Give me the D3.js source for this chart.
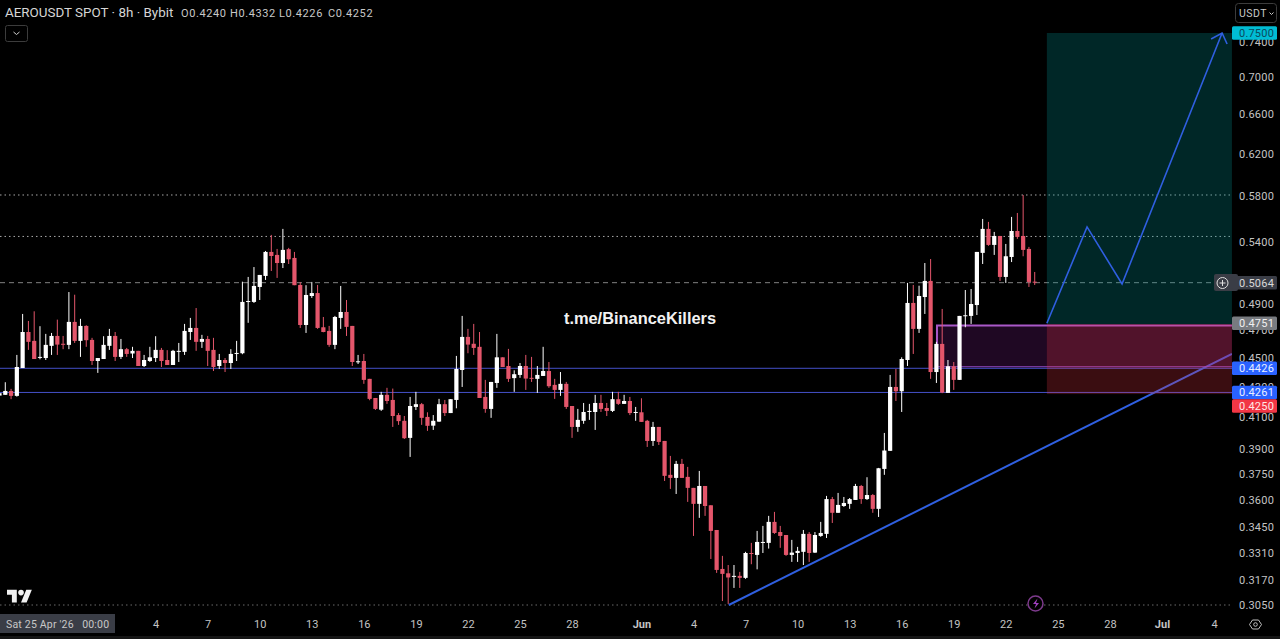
<!DOCTYPE html>
<html>
<head>
<meta charset="utf-8">
<script src="https://cdn.jsdelivr.net/npm/d3@7"></script>
<style>
  html, body { margin: 0; padding: 0; background: #000; overflow: hidden; }
  svg { display: block; font-family: Roboto, "Liberation Sans", sans-serif; }
</style>
</head>
<body>
<svg id="chart" width="1280" height="639"></svg>
<script>
// 8h bars, first one is Sat 25 Apr 2026 00:00
const startTime = Date.UTC(2026, 3, 25);
const barMs = 8 * 3600 * 1000;

const opens = [.4240,.4245,.4271,.4238,.4428,.4686,.4621,.4499,.4498,.4585,.4657,.4600,.4592,.4761,.4621,.4731,.4628,.4477,.4491,.4585,
  .4657,.4506,.4561,.4530,.4549,.4442,.4477,.4498,.4556,.4484,.4449,.4542,.4542,.4686,.4716,.4614,.4635,.4556,.4442,.4484,
  .4463,.4527,.4532,.4915,.4913,.5030,.5118,.5315,.5290,.5223,.5338,.5265,.5046,.4738,.4959,.4982,.4721,.4694,.4592,.4791,
  .4836,.4731,.4470,.4477,.4353,.4224,.4147,.4245,.4211,.4112,.4075,.3967,.4165,.4183,.4100,.4044,.4070,.4183,.4125,.4211,
  .4414,.4650,.4600,.4578,.4231,.4152,.4325,.4503,.4442,.4358,.4380,.4442,.4360,.4353,.4373,.4407,.4312,.4278,.4319,.4171,
  .4036,.4075,.4132,.4132,.4191,.4158,.4139,.4216,.4185,.4204,.4127,.4130,.4075,.3948,.4036,.3948,.3743,.3725,.3808,.3731,
  .3667,.3576,.3678,.3568,.3432,.3228,.3206,.3190,.3193,.3183,.3310,.3300,.3365,.3363,.3476,.3421,.3405,.3300,.3310,.3316,
  .3411,.3312,.3400,.3411,.3603,.3526,.3564,.3576,.3598,.3678,.3603,.3626,.3548,.3778,.3887,.4298,.4269,.4484,.4905,.4709,
  .4951,.5078,.4400,.4599,.4258,.4440,.4346,.4804,.4806,.4889,.5307,.5511,.5374,.5450,.5110,.5273,.5493,.5450,.5340,.5072];
const highs = [.4258,.4330,.4285,.4520,.4821,.4768,.4841,.4729,.4672,.4679,.4778,.4657,.4990,.4969,.4784,.4736,.4643,.4498,.4655,.4709,
  .4686,.4635,.4570,.4578,.4549,.4520,.4578,.4655,.4570,.4554,.4556,.4606,.4746,.4791,.4866,.4665,.4657,.4643,.4527,.4498,
  .4561,.4621,.5072,.5110,.5190,.5126,.5323,.5459,.5340,.5511,.5349,.5315,.5068,.5044,.5070,.5046,.4798,.4731,.4806,.5038,
  .4928,.4731,.4520,.4527,.4353,.4224,.4265,.4292,.4287,.4125,.4106,.4231,.4265,.4191,.4130,.4112,.4218,.4211,.4216,.4513,
  .4806,.4709,.4746,.4686,.4346,.4332,.4672,.4503,.4563,.4412,.4463,.4520,.4506,.4442,.4578,.4470,.4353,.4400,.4332,.4171,
  .4152,.4191,.4185,.4245,.4245,.4191,.4265,.4265,.4245,.4231,.4165,.4222,.4081,.4068,.4036,.3948,.3856,.3826,.3838,.3790,
  .3667,.3766,.3678,.3568,.3432,.3295,.3248,.3248,.3213,.3316,.3363,.3427,.3454,.3509,.3531,.3454,.3405,.3379,.3342,.3432,
  .3421,.3421,.3476,.3621,.3615,.3638,.3615,.3609,.3690,.3684,.3729,.3632,.3784,.3998,.4380,.4421,.4503,.5062,.5046,.5040,
  .5223,.5256,.4614,.4859,.4484,.4470,.4806,.5006,.5014,.5315,.5598,.5572,.5485,.5450,.5382,.5616,.5651,.5813,.5357,.5150];
const lows = [.4238,.4245,.4216,.4233,.4428,.4556,.4491,.4489,.4484,.4520,.4520,.4561,.4561,.4606,.4506,.4578,.4449,.4394,.4491,.4556,
  .4477,.4491,.4506,.4498,.4442,.4435,.4470,.4470,.4435,.4449,.4449,.4470,.4520,.4628,.4549,.4570,.4442,.4407,.4421,.4400,
  .4421,.4477,.4525,.4754,.4905,.4928,.5086,.5158,.5102,.5182,.5215,.5044,.4716,.4679,.4944,.4709,.4684,.4578,.4561,.4709,
  .4657,.4442,.4456,.4319,.4209,.4145,.4139,.4185,.4036,.4049,.3960,.3850,.4145,.4049,.4011,.4017,.4068,.4106,.4125,.4156,
  .4298,.4532,.4520,.4224,.4127,.4094,.4292,.4435,.4332,.4265,.4360,.4278,.4332,.4258,.4373,.4292,.4218,.4238,.4152,.3967,
  .4005,.4056,.4081,.4017,.4132,.4106,.4132,.4178,.4185,.4112,.4075,.4068,.3911,.3917,.3923,.3707,.3661,.3632,.3725,.3587,
  .3400,.3498,.3509,.3279,.3208,.3069,.3055,.3133,.3133,.3178,.3252,.3226,.3310,.3333,.3411,.3337,.3295,.3264,.3264,.3248,
  .3264,.3310,.3395,.3389,.3470,.3526,.3559,.3548,.3598,.3576,.3598,.3526,.3503,.3743,.3887,.4204,.4132,.4442,.4527,.4679,
  .4821,.4353,.4325,.4256,.4258,.4278,.4346,.4721,.4746,.4813,.5215,.5366,.5290,.5078,.5062,.5231,.5425,.5279,.5030,.5046];
const closes = [.4256,.4271,.4238,.4435,.4686,.4614,.4491,.4506,.4592,.4657,.4594,.4594,.4761,.4621,.4731,.4626,.4477,.4498,.4592,.4657,
  .4506,.4561,.4527,.4549,.4442,.4484,.4503,.4556,.4477,.4449,.4549,.4549,.4694,.4716,.4614,.4635,.4549,.4435,.4484,.4463,
  .4527,.4534,.4913,.4920,.5038,.5126,.5315,.5281,.5223,.5332,.5254,.5044,.4738,.4967,.4982,.4716,.4686,.4592,.4798,.4836,
  .4724,.4470,.4475,.4346,.4218,.4152,.4245,.4204,.4106,.4073,.3965,.4171,.4183,.4094,.4043,.4075,.4183,.4125,.4216,.4421,
  .4650,.4594,.4570,.4224,.4152,.4332,.4503,.4435,.4353,.4385,.4442,.4355,.4355,.4380,.4407,.4303,.4278,.4319,.4165,.4036,
  .4081,.4132,.4139,.4191,.4152,.4139,.4216,.4185,.4204,.4125,.4132,.4068,.3948,.4036,.3942,.3737,.3725,.3808,.3725,.3667,
  .3576,.3678,.3564,.3427,.3223,.3203,.3185,.3193,.3183,.3310,.3307,.3368,.3368,.3476,.3416,.3400,.3300,.3312,.3321,.3411,
  .3310,.3405,.3416,.3603,.3526,.3570,.3581,.3603,.3678,.3603,.3626,.3548,.3782,.3889,.4298,.4269,.4491,.4905,.4709,.4959,
  .5078,.4400,.4599,.4260,.4440,.4346,.4806,.4811,.4897,.5315,.5511,.5374,.5450,.5110,.5279,.5493,.5442,.5332,.5070,.5064];

const priceTicks = [.74,.70,.66,.62,.58,.54,.49,.47,.45,.43,.41,.39,.375,.36,.345,.331,.317,.305];
const dateTicks = ["2026-05-04","2026-05-07","2026-05-10","2026-05-13","2026-05-16","2026-05-19","2026-05-22","2026-05-25","2026-05-28",
  "2026-06-01","2026-06-04","2026-06-07","2026-06-10","2026-06-13","2026-06-16","2026-06-19","2026-06-22","2026-06-25","2026-06-28",
  "2026-07-01","2026-07-04"].map(d => new Date(d + "T00:00:00Z"));
const ohlcLabels = ["O0.4240", "H0.4332", "L0.4226", "C0.4252"];

// drawing levels
const dottedLevels = [.5813, .5446];
const lastPrice = .5064;
const supportLevels = [.4426, .4261];
const floorLevel = .3050;
const targetPrice = .75, entryPrice = .4745, stopPrice = .4250;

// anchors for the drawings: bar number, price
const trendBars = [126.1, 213.1], trendPrices = [.3050, .4527];
const pathBars = [181.1, 188.05, 194.1, 211.4], pathPrices = [.4751, .5528, .5054, .75];
const boxBars = [162.1, 213.1], boxPrices = [.4735, .4426];
const toolBars = [181.1, 213.1];

const tagValues = [.75, .5064, .4751, .4426, .4261, .4250];
const tagFills = ["#00bcd4", "#3a3d46", "#787b80", "#2962ff", "#2962ff", "#f23645"];
const tagInk = ["#0b4a5c", "#d8d8d8", "#f0f0f0", "#e8eeff", "#e8eeff", "#ffe8e8"];

const upColor = "#ffffff", downColor = "#e4566b", lineBlue = "#2f5fe0", axisInk = "#c4c4c4";

const svg = d3.select("#chart");
const width = 1280, height = 639, paneRight = 1232, paneBottom = 612;

// time scale: Apr 25 sits on the left edge, 4 Jul on the last date label
const x = d3.scaleUtc()
  .domain([new Date(startTime), new Date("2026-07-04T00:00:00Z")])
  .range([-0.5, 1214]);
const y = d3.scaleLog().domain([.305, .75]).range([605, 33]);
const barX = i => x(new Date(startTime + i * barMs));

svg.append("rect").attr("width", width).attr("height", height).attr("fill", "#000");

svg.append("defs").append("clipPath").attr("id", "pane")
  .append("rect").attr("width", paneRight).attr("height", paneBottom);

const pane = svg.append("g").attr("clip-path", "url(#pane)");

// horizontal levels
pane.selectAll(".dotted").data(dottedLevels).join("line")
  .attr("x1", 0).attr("x2", paneRight)
  .attr("y1", d => y(d)).attr("y2", d => y(d))
  .attr("stroke", "#a8a8a8").attr("stroke-dasharray", "1.5 3");
pane.append("line")
  .attr("x1", 0).attr("x2", paneRight)
  .attr("y1", y(floorLevel)).attr("y2", y(floorLevel))
  .attr("stroke", "#6a6a6a").attr("stroke-dasharray", "1.5 3");
pane.append("line")
  .attr("x1", 0).attr("x2", 1214)
  .attr("y1", y(lastPrice)).attr("y2", y(lastPrice))
  .attr("stroke", "#808080").attr("stroke-dasharray", "5 4");
pane.selectAll(".support").data(supportLevels).join("line")
  .attr("x1", 0).attr("x2", paneRight)
  .attr("y1", d => y(d)).attr("y2", d => y(d))
  .attr("stroke", "#4450c8").attr("stroke-width", 1);

// trend line goes under the zones, that is why it turns purple over the red
const trendLine = d3.line().x((d, i) => barX(trendBars[i])).y(d => y(d));
pane.append("path").attr("d", trendLine(trendPrices))
  .attr("fill", "none").attr("stroke", lineBlue).attr("stroke-width", 2);

// purple box
const boxX = barX(boxBars[0]), boxW = barX(boxBars[1]) - boxX;
pane.append("rect")
  .attr("x", boxX).attr("y", y(boxPrices[0]))
  .attr("width", boxW).attr("height", y(boxPrices[1]) - y(boxPrices[0]) - 1.5)
  .attr("fill", "rgba(156,39,176,0.2)");
pane.append("path")
  .attr("d", `M${boxX},${y(boxPrices[1]) - 1.5}V${y(boxPrices[0])}H${boxX + boxW}`)
  .attr("fill", "none").attr("stroke", "#a958c8").attr("stroke-width", 2);
pane.append("line")
  .attr("x1", boxX).attr("x2", boxX + boxW)
  .attr("y1", y(boxPrices[1]) - 1.5).attr("y2", y(boxPrices[1]) - 1.5)
  .attr("stroke", "#9a4fd0").attr("stroke-width", 1);

// long position tool
const toolX = barX(toolBars[0]), toolW = barX(toolBars[1]) - toolX;
pane.append("rect")
  .attr("x", toolX).attr("y", y(targetPrice))
  .attr("width", toolW).attr("height", y(entryPrice) - y(targetPrice))
  .attr("fill", "rgba(0,150,150,0.26)");
pane.append("rect")
  .attr("x", toolX).attr("y", y(entryPrice))
  .attr("width", toolW).attr("height", y(stopPrice) - y(entryPrice))
  .attr("fill", "rgba(242,54,69,0.24)");

// candles
const candles = opens.map((o, i) => ({ i, o, h: highs[i], l: lows[i], c: closes[i] }));
const candleColor = d => d.c >= d.o ? upColor : downColor;
pane.selectAll(".wick").data(candles).join("line")
  .attr("class", "wick")
  .attr("x1", d => barX(d.i)).attr("x2", d => barX(d.i))
  .attr("y1", d => y(d.h)).attr("y2", d => y(d.l))
  .attr("stroke", candleColor).attr("stroke-width", 1);
pane.selectAll(".body").data(candles).join("rect")
  .attr("class", "body")
  .attr("x", d => barX(d.i) - 2.1).attr("width", 4.2)
  .attr("y", d => y(Math.max(d.o, d.c)))
  .attr("height", d => Math.max(1, Math.abs(y(d.o) - y(d.c))))
  .attr("fill", candleColor);

// projected path with arrow head
const pathLine = d3.line().x((d, i) => barX(pathBars[i])).y(d => y(d));
pane.append("path").attr("d", pathLine(pathPrices))
  .attr("fill", "none").attr("stroke", lineBlue).attr("stroke-width", 1.6).attr("stroke-linejoin", "miter");
const tipX = barX(pathBars[3]), tipY = y(pathPrices[3]);
pane.append("path")
  .attr("d", `M${tipX - 11},${tipY + 6}L${tipX},${tipY}L${tipX + 5},${tipY + 11}`)
  .attr("fill", "none").attr("stroke", lineBlue).attr("stroke-width", 1.6);

// watermark
svg.append("text").attr("x", 640).attr("y", 323.5).attr("text-anchor", "middle")
  .attr("font-family", "Liberation Sans, Arial, sans-serif").attr("font-weight", 700)
  .attr("font-size", 16.4).attr("fill", "#f2f2f2")
  .text("t.me/BinanceKillers");

// price axis
const yAxis = d3.axisRight(y).tickValues(priceTicks).tickFormat(d3.format(".4f")).tickSize(0).tickPadding(7);
svg.append("g").attr("transform", `translate(${paneRight},0)`).call(yAxis)
  .call(g => g.select(".domain").remove())
  .selectAll("text").attr("fill", axisInk).attr("font-size", 11)
  .attr("font-family", "Roboto, sans-serif").attr("letter-spacing", 0.2);

// date axis
const dayLabel = d => d.getUTCDate() === 1 ? d3.utcFormat("%b")(d) : d.getUTCDate();
const xAxis = d3.axisBottom(x).tickValues(dateTicks).tickFormat(dayLabel).tickSize(0).tickPadding(8);
svg.append("g").attr("transform", "translate(0,612)").call(xAxis)
  .call(g => g.select(".domain").remove())
  .selectAll("text").attr("fill", axisInk).attr("font-size", 11)
  .attr("font-family", "Roboto, sans-serif")
  .attr("font-weight", d => d.getUTCDate() === 1 ? 700 : 400);

svg.append("rect").attr("x", 0).attr("y", 636).attr("width", width).attr("height", 3).attr("fill", "#151515");

// crosshair date label
svg.append("rect").attr("x", 0).attr("y", 614).attr("width", 115).attr("height", 19).attr("fill", "#3a3d46");
svg.append("text").attr("x", 6).attr("y", 628).attr("font-size", 10.5).attr("fill", "#c8c8c8")
  .attr("xml:space", "preserve").attr("letter-spacing", 0.2)
  .text("Sat 25 Apr '26   00:00");

// last price label stub and the plus button
svg.append("rect").attr("x", 1214).attr("y", 274).attr("width", 24).attr("height", 17).attr("rx", 2).attr("fill", "#3a3d46");
svg.append("circle").attr("cx", 1222.5).attr("cy", 283).attr("r", 5.5).attr("fill", "none").attr("stroke", "#e0e0e0");
svg.append("path").attr("d", "M1219.5,283h6M1222.5,280v6").attr("stroke", "#e0e0e0");

// price tags, pushed down when they would overlap
const tagH = 13.5;
let lastBottom = -Infinity;
const tags = tagValues.map((v, i) => {
  const top = Math.max(y(v) - tagH / 2, lastBottom);
  lastBottom = top + tagH;
  return { v, top, fill: tagFills[i], ink: tagInk[i] };
});
const tagG = svg.selectAll(".tag").data(tags).join("g").attr("class", "tag")
  .attr("transform", d => `translate(${paneRight},${d.top})`);
tagG.append("rect").attr("width", 45).attr("height", tagH)
  .attr("rx", 1.5).attr("fill", d => d.fill);
tagG.append("text").attr("x", 7).attr("y", tagH / 2).attr("dy", "0.36em")
  .attr("font-size", 11).attr("letter-spacing", 0.2).attr("fill", d => d.ink)
  .text(d => d3.format(".4f")(d.v));

// header
svg.append("text").attr("x", 5).attr("y", 17).attr("font-size", 13.4).attr("fill", "#d6d6d6")
  .text("AEROUSDT SPOT · 8h · Bybit");
const ohlcX = d3.scalePoint().domain(ohlcLabels).range([181, 328]);
svg.selectAll(".ohlc").data(ohlcLabels).join("text")
  .attr("class", "ohlc")
  .attr("x", d => ohlcX(d)).attr("y", 17)
  .attr("font-size", 11).attr("fill", "#c8c8c8").attr("letter-spacing", 0.6)
  .text(d => d);

// collapse button
svg.append("rect").attr("x", 5.5).attr("y", 25.5).attr("width", 22).attr("height", 16).attr("rx", 2)
  .attr("fill", "none").attr("stroke", "#3c3c3c");
svg.append("path").attr("d", "M13.5,32l3,2.5l3,-2.5").attr("fill", "none").attr("stroke", "#d0d0d0");

// currency button
svg.append("rect").attr("x", 1235.5).attr("y", 3.5).attr("width", 41).attr("height", 19).attr("rx", 3)
  .attr("fill", "none").attr("stroke", "#3c3c3c");
svg.append("text").attr("x", 1239).attr("y", 17).attr("font-size", 10.5).attr("fill", "#c8c8c8").attr("letter-spacing", 0.5).text("USDT");
svg.append("path").attr("d", "M1269.5,12.5l2,2l2,-2").attr("fill", "none").attr("stroke", "#c8c8c8");

// tradingview logo
const logo = svg.append("g").attr("transform", "translate(7,587) scale(0.7)").attr("fill", "#f0f0f0");
logo.append("path").attr("d", "M14 22H7V11H0V4h14v18zM28 22h-8l7.5-18h8L28 22z");
logo.append("circle").attr("cx", 20).attr("cy", 8).attr("r", 4);

// lightning button
svg.append("circle").attr("cx", 1035.5).attr("cy", 603.5).attr("r", 7.5)
  .attr("fill", "#000").attr("stroke", "#7d3a8c").attr("stroke-width", 1.5);
svg.append("path").attr("d", "M1037.5,598.5l-4.5,5.5h3l-1.5,4.5l4.5,-5.5h-3z").attr("fill", "#a040c0");

// settings icon
svg.append("path").attr("d", "M1252.5,620h6l3,4.5l-3,4.5h-6l-3,-4.5z").attr("fill", "none").attr("stroke", "#c0c0c0");
svg.append("circle").attr("cx", 1255.5).attr("cy", 624.5).attr("r", 1.8).attr("fill", "none").attr("stroke", "#c0c0c0");
</script>
</body>
</html>
